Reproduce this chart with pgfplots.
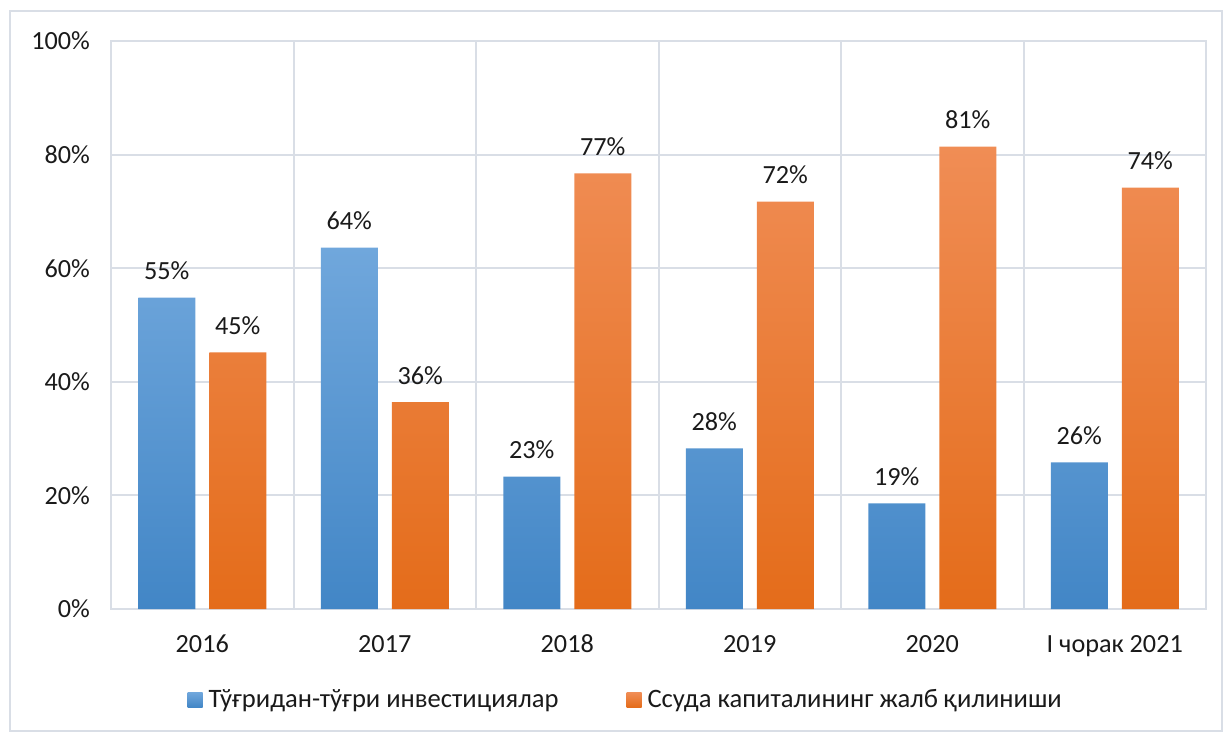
\documentclass[border=0pt]{standalone}
\usepackage{pgfplots}
\pgfplotsset{compat=1.18}
\usepackage{fontspec}
\setmainfont{Carlito}
\definecolor{gridc}{RGB}{217,222,230}
\definecolor{blueT}{RGB}{112,167,220}
\definecolor{blueB}{RGB}{66,134,198}
\definecolor{oraT}{RGB}{240,141,85}
\definecolor{oraB}{RGB}{228,108,26}
\definecolor{txt}{RGB}{26,26,26}
\begin{document}
\begin{tikzpicture}
\begin{axis}[name=ax, at={(0,0)}, anchor=south west, scale only axis,
  width=547.5pt, height=284pt,
  xmin=-0.5, xmax=5.5, ymin=0, ymax=100,
  ybar,
  xtick={0,...,5},
  xticklabels={2016,2017,2018,2019,2020,I чорак 2021},
  minor xtick={0.5,1.5,2.5,3.5,4.5},
  xminorgrids=true,
  ytick={0,20,...,100},
  ymajorgrids=true,
  major grid style={draw=gridc, line width=1pt},
  minor grid style={draw=gridc, line width=1pt},
  axis line style={draw=gridc, line width=1pt},
  major tick length=0pt, minor tick length=0pt,
  tick style={draw=none},
  /pgf/number format/assume math mode=true,
  yticklabel={\pgfmathprintnumber{\tick}\%},
  tick label style={font=\fontsize{13.1}{15.5}\selectfont, text=txt},
  yticklabel style={xshift=-7pt},
  xticklabel style={yshift=-9.5pt},
  nodes near coords={\pgfmathprintnumber[fixed,precision=0]{\pgfplotspointmeta}\%},
  every node near coord/.append style={font=\fontsize{13.1}{15.5}\selectfont, text=txt, anchor=south, yshift=5.3pt},
  legend columns=2,
  legend style={at={(0.471,-0.160)}, anchor=center, draw=none, fill=none,
    font=\fontsize{13.3}{15.5}\selectfont, text=txt,
    /tikz/every even column/.append style={column sep=32pt},
    /tikz/every odd column/.append style={column sep=1pt}},
  legend image code/.code={\path[#1, draw=none] (0pt,-3.75pt) rectangle (7.5pt,3.75pt);},
]
\addplot[draw=none, bar width=28.5pt, bar shift=-17.75pt, top color=blueT, bottom color=blueB]
  coordinates {(0,54.8) (1,63.6) (2,23.3) (3,28.3) (4,18.6) (5,25.8)};
\addplot[draw=none, bar width=28.5pt, bar shift=17.75pt, top color=oraT, bottom color=oraB]
  coordinates {(0,45.2) (1,36.4) (2,76.7) (3,71.7) (4,81.4) (5,74.2)};
\legend{Тўғридан-тўғри инвестициялар, Ссуда капиталининг жалб қилиниши}
\end{axis}
\pgfresetboundingbox
\draw[gridc, line width=1pt] ([shift={(-50.5pt,-61pt)}]ax.south west) rectangle ([shift={(555.5pt,299pt)}]ax.south west);
\path[use as bounding box] ([shift={(-55.5pt,-62pt)}]ax.south west) rectangle ([shift={(556.5pt,304.5pt)}]ax.south west);
\end{tikzpicture}
\end{document}
